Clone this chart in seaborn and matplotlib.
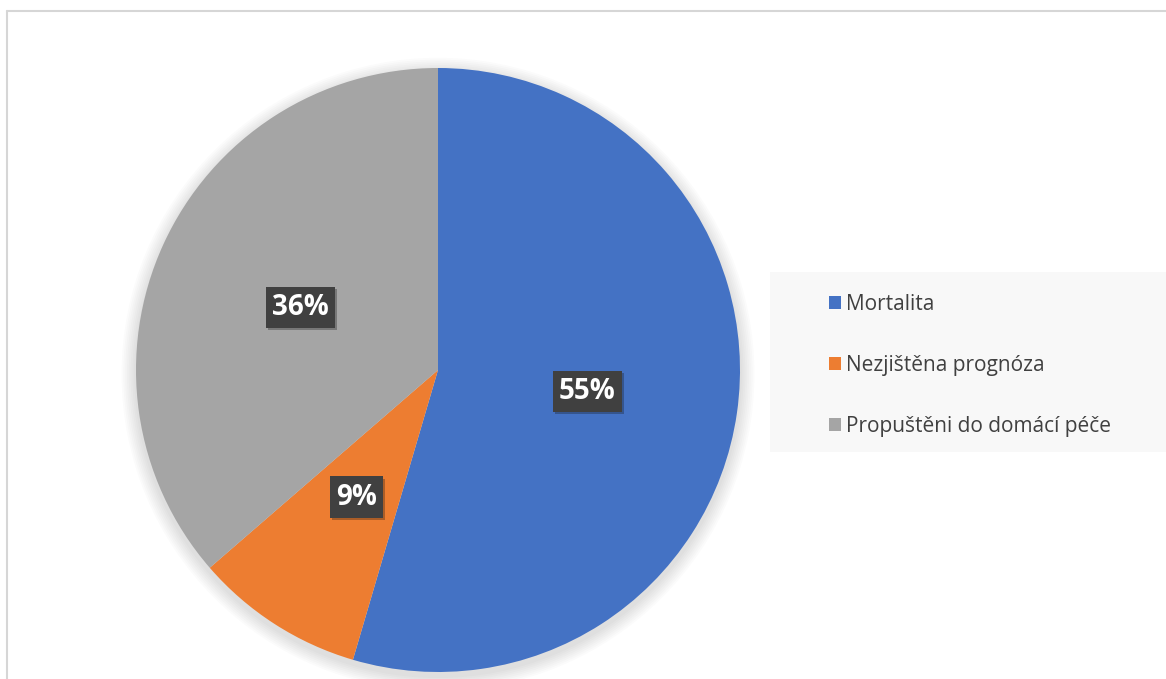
import matplotlib
matplotlib.use("Agg")
import matplotlib.pyplot as plt
import matplotlib.patheffects as pe
from matplotlib.patches import Patch, Rectangle, Circle
from matplotlib.lines import Line2D
import seaborn as sns

# Data
categories = ["Mortalita", "Nezjištěna prognóza", "Propuštěni do domácí péče"]
counts = [6, 1, 4]
colors = ["#4472C4", "#ED7D31", "#A5A5A5"]

sns.set_theme(style="white")
plt.rcParams['font.family'] = ['Open Sans', 'DejaVu Sans']

W, H = 1166, 679
fig = plt.figure(figsize=(W / 100, H / 100), dpi=100)
fig.patch.set_facecolor("white")

# thin frame lines (top and left) like the original screenshot
fig.add_artist(Line2D([7 / W, 1], [1 - 11 / H, 1 - 11 / H], color="#d6d6d6", lw=1.5))
fig.add_artist(Line2D([7 / W, 7 / W], [0, 1 - 11 / H], color="#d6d6d6", lw=1.5))

# pie axes, centre (438, 370), radius 302 px
cx, cy, r = 438, 370, 302
ax = fig.add_axes([(cx - r) / W, 1 - (cy + r) / H, 2 * r / W, 2 * r / H])
ax.axis("off")

# soft shadow under the pie
for i in range(8):
    ax.add_patch(Circle((0.0, -0.014), 1.0 + 0.006 * (8 - i), color="black", alpha=0.016,
                        lw=0, zorder=0, clip_on=False))

wedges, texts, autotexts = ax.pie(
    counts, colors=sns.color_palette(colors), startangle=90, counterclock=False,
    autopct="%.0f%%", pctdistance=0.5, radius=1.0,
    wedgeprops=dict(linewidth=0), textprops=dict(color="white", fontsize=20, fontweight="bold"),
)
ax.set_xlim(-1, 1)
ax.set_ylim(-1, 1)

for t in autotexts:
    t.set_bbox(dict(boxstyle="square,pad=0.22", fc="#404040", ec="none"))
    t.get_bbox_patch().set_path_effects([pe.withSimplePatchShadow(offset=(1.5, -1.5), alpha=0.3), pe.Normal()])

# legend background panel
fig.add_artist(Rectangle((770 / W, 1 - 452 / H), (W - 770) / W, 180 / H,
                         transform=fig.transFigure, fc="#f8f8f8", ec="none", zorder=0))

handles = [Patch(facecolor=c, edgecolor="none") for c in colors]
leg = fig.legend(handles, categories, loc="upper left",
                 bbox_to_anchor=(810 / W, 1 - 275 / H), frameon=False,
                 fontsize=15, handlelength=0.6, handleheight=0.6, handletextpad=0.25,
                 labelspacing=1.92)
for t in leg.get_texts():
    t.set_color("#404040")

fig.savefig("out.png", dpi=100)
